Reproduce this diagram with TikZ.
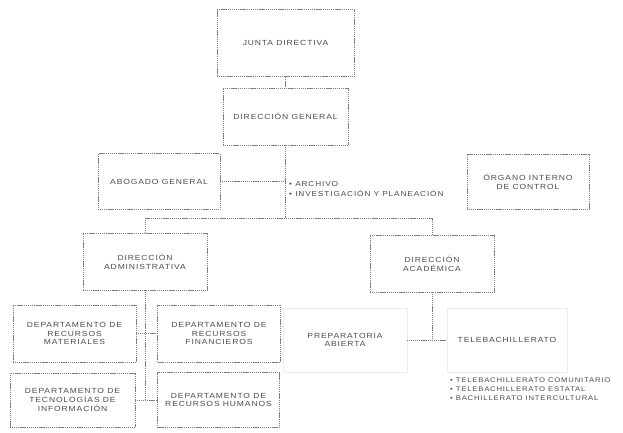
\documentclass[tikz,border=0pt]{standalone}
\usepackage{fontspec}
\setmainfont{Liberation Sans}[FakeStretch=1.15,LetterSpace=12]
\begin{document}
\begin{tikzpicture}[x=1pt,y=-1pt,font=\fontsize{7.4}{8.8}\selectfont]
\useasboundingbox (0,0) rectangle (623,432);
\fill[white] (0,0) rectangle (623,432);
\tikzset{
  orgbox/.style={draw=black!50, dash pattern=on 1.2pt off 0.7pt, line width=0.5pt, text=black!70, align=center, inner sep=0pt},
  faintbox/.style={draw=black!8, line width=0.5pt, text=black!70, align=center, inner sep=0pt},
  link/.style={draw=black!50, dash pattern=on 1.2pt off 0.7pt, line width=0.5pt},
  plaintext/.style={text=black!70, align=left, inner sep=0pt, anchor=west}
}
% boxes
\node[orgbox, minimum width=137, minimum height=67] (jd) at (285.5,43) {JUNTA DIRECTIVA};
\node[orgbox, minimum width=125, minimum height=57] (dg) at (285.5,116.5) {DIRECCIÓN GENERAL};
\node[orgbox, minimum width=122, minimum height=56] (ag) at (159,181.5) {ABOGADO GENERAL};
\node[orgbox, minimum width=122, minimum height=55] (oic) at (528,181.5) {ÓRGANO INTERNO\\DE CONTROL};
\node[plaintext, font=\fontsize{7.2}{10}\selectfont] (bul) at (289,189) {• ARCHIVO\\• INVESTIGACIÓN Y PLANEACIÓN};
\node[orgbox, minimum width=124, minimum height=57] (da) at (145,261.5) {DIRECCIÓN\\ADMINISTRATIVA};
\node[orgbox, minimum width=124, minimum height=57] (dac) at (432,263.5) {DIRECCIÓN\\ACADÉMICA};
\node[orgbox, minimum width=123, minimum height=57] (drm) at (74.5,333.5) {DEPARTAMENTO DE\\RECURSOS\\MATERIALES};
\node[orgbox, minimum width=123, minimum height=57] (drf) at (219,333.5) {DEPARTAMENTO DE\\RECURSOS\\FINANCIEROS};
\node[orgbox, minimum width=125, minimum height=54] (dti) at (72.5,400) {DEPARTAMENTO DE\\TECNOLOGÍAS DE\\INFORMACIÓN};
\node[orgbox, minimum width=122, minimum height=55] (drh) at (218.5,400) {DEPARTAMENTO DE\\RECURSOS HUMANOS};
\node[faintbox, minimum width=124, minimum height=64] (pa) at (345,340) {PREPARATORIA\\ABIERTA};
\node[faintbox, minimum width=120, minimum height=64] (tb) at (507,340) {TELEBACHILLERATO};
\node[plaintext, font=\fontsize{6.7}{9}\selectfont] (tbl) at (450,389) {• TELEBACHILLERATO COMUNITARIO\\• TELEBACHILLERATO ESTATAL\\• BACHILLERATO INTERCULTURAL};
% connectors
\coordinate (j1) at (285.5,218);
\draw[link] (jd.south) -- (dg.north);
\draw[link] (dg.south) -- (j1);
\draw[link] (da.north) -- (da.north |- j1) -- (dac.north |- j1) -- (dac.north);
\draw[link] (ag.east) -- (ag.east -| j1);
\draw[link] (da.south) -- (da.south |- dti.east);
\draw[link] (drm.east) -- (drf.west);
\draw[link] (dti.east) -- (drh.west);
\draw[link] (dac.south) -- (dac.south |- pa.east);
\draw[link] (pa.east) -- (tb.west);
\end{tikzpicture}
\end{document}
